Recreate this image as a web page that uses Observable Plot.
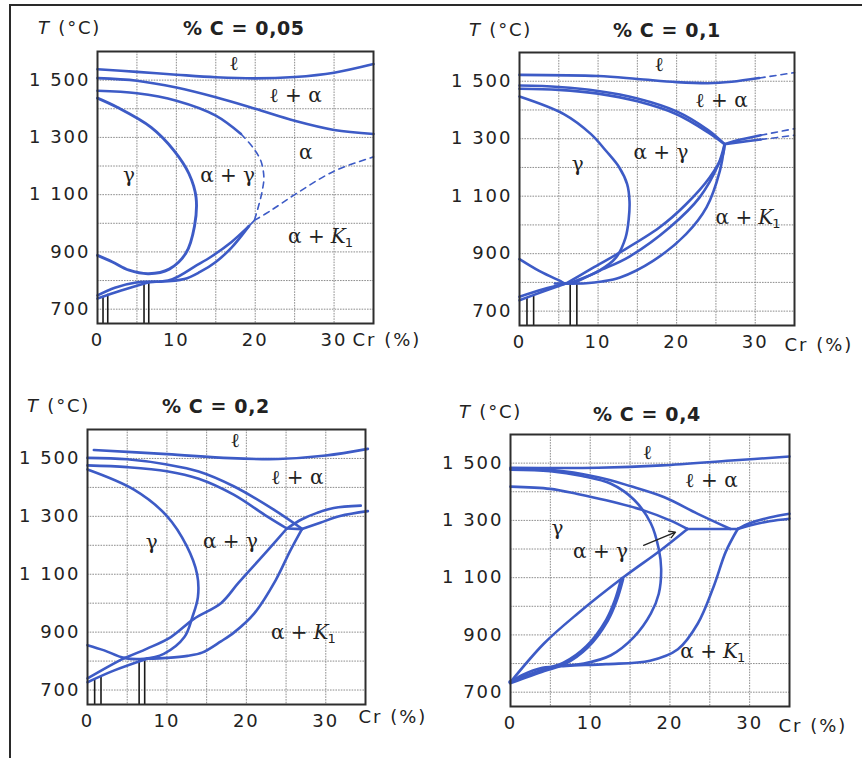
<!DOCTYPE html>
<html><head><meta charset="utf-8">
<script src="https://cdn.jsdelivr.net/npm/d3@7"></script>
<script src="https://cdn.jsdelivr.net/npm/@observablehq/plot@0.6"></script>
<style>
html,body{margin:0;padding:0;background:#fff;overflow:hidden;}
#page{position:relative;width:862px;height:758px;overflow:hidden;}
#border{position:absolute;left:9px;top:4px;width:900px;height:800px;border-left:2px solid #2a2a2a;border-top:2px solid #2a2a2a;}
.hdr{position:absolute;font-family:"DejaVu Sans";font-size:18px;color:#222;white-space:nowrap;line-height:20px;letter-spacing:1.8px;}
.ttl{font-weight:bold;font-size:19px;letter-spacing:0.6px;}
.panel{position:absolute;}
g[aria-label="x-axis tick label"] text, g[aria-label="y-axis tick label"] text{letter-spacing:2px;}
</style></head>
<body>
<div id="page">
<div id="border"></div>
<div class="hdr" style="left:38px;top:18px"><i>T</i> (°C)</div>
<div class="hdr ttl" style="left:183px;top:18px">% C = 0,05</div>
<div class="hdr" style="left:469px;top:20px"><i>T</i> (°C)</div>
<div class="hdr ttl" style="left:613px;top:20px">% C = 0,1</div>
<div class="hdr" style="left:27px;top:396px"><i>T</i> (°C)</div>
<div class="hdr ttl" style="left:162px;top:396px">% C = 0,2</div>
<div class="hdr" style="left:459px;top:402px"><i>T</i> (°C)</div>
<div class="hdr ttl" style="left:593px;top:404px">% C = 0,4</div>
</div>
<script>
// ---- axes / ticks ----
const crDomain = [0, 35];
const tDomain = [650, 1600];
const gridXTicks = [5, 10, 15, 20, 25, 30];
const gridYTicks = [700, 800, 900, 1000, 1100, 1200, 1300, 1400, 1500];
const xTickLabels = [0, 10, 20, 30];
const yTickLabels = [700, 900, 1100, 1300, 1500];

// ---- % C = 0,05 ----
const p1_liquidus = [[0,1538],[5,1529],[10,1519],[15,1510],[20,1506],[25,1511],[30,1526],[35,1556]];
const p1_solidus = [[0,1507],[5,1498],[10,1474],[15,1440],[20,1400],[25,1358],[30,1326],[35,1312]];
const p1_delta = [[0,1463],[5,1454],[10,1428],[15,1376],[18.2,1312]];
const p1_deltaDash = [[18.2,1312],[19.7,1265],[20.7,1219],[21.1,1161],[20.9,1115],[20.5,1068],[19.9,1010]];
const p1_gammaLoop = [[0,1437],[2.5,1405],[6.8,1335],[9.7,1254],[11.6,1173],[12.5,1090],[12.3,990],[11.2,895],[9.1,840],[6.5,824],[4.0,836],[1.9,865],[0,888]];
const p1_lowA = [[0,748],[2.2,775],[4.9,793],[8,796]];
const p1_lowB = [[0,737],[3,765],[6.5,794]];
const p1_lensUpper = [[6.5,794],[9.5,805],[12.5,852],[14.5,885],[17,935],[19.2,990]];
const p1_lensLower = [[8,796],[11,805],[13,830],[15,865],[17,915],[19.2,990]];
const p1_lensJoin = [[19.2,990],[19.9,1010]];
const p1_dashRight = [[19.9,1010],[22,1045],[25,1100],[30,1182],[35,1232]];
const p1_rules = [[0.7,745],[1.3,752],[5.9,792],[6.5,794]];
const p1_labels = [
  {t:"ℓ", x:17.3, y:1557}, {t:"ℓ + α", x:25.1, y:1445}, {t:"α", x:26.4, y:1248},
  {t:"γ", x:4.0, y:1167}, {t:"α + γ", x:16.5, y:1167}, {t:"K", x:28.3, y:952}
];

// ---- % C = 0,1 ----
const p2_liquidus = [[0,1522],[10,1518],[15,1508],[20,1497],[24,1493],[27,1498],[30.5,1511]];
const p2_liquidusDash = [[30.5,1511],[35,1530]];
const p2_solidusA = [[0,1485],[5,1480],[10,1466],[15,1440],[20,1395],[24,1330],[26.1,1281]];
const p2_solidusB = [[0,1474],[5,1470],[10,1457],[15,1430],[20,1385],[24,1322],[26.1,1281]];
const p2_rightA = [[26.1,1281],[28,1296],[30.7,1312]];
const p2_rightADash = [[30.7,1312],[35,1335]];
const p2_rightB = [[26.1,1281],[28,1288],[30.7,1297]];
const p2_rightBDash = [[30.7,1297],[35,1312]];
const p2_gammaLoop = [[0,1447],[5.7,1385],[9.1,1316],[11,1258],[12.7,1200],[13.7,1142],[14,1083],[13.9,1020],[13.5,956],[12.3,887],[10.1,840],[7.2,806],[5.9,796],[5.1,806],[2.5,840],[0,881]];
const p2_lowA = [[0,750],[3,776],[5.9,796]];
const p2_lowB = [[0,738],[3,768],[5.9,796]];
const p2_e1 = [[5.9,796],[9,845],[12.5,900],[17.8,991],[21.2,1072],[24.2,1165],[25.9,1246],[26.1,1281]];
const p2_e2 = [[6.8,796],[10,838],[14,890],[19.1,991],[22.9,1095],[25.3,1210],[26.1,1281]];
const p2_e3 = [[4.5,796],[8.5,797],[10.5,803],[12.8,817],[17,875],[21.2,968],[23.8,1061],[25.5,1188],[26.1,1281]];
const p2_rules = [[0.95,745],[1.8,752],[6.45,796],[7.3,796]];
const p2_labels = [
  {t:"ℓ", x:17.8, y:1559}, {t:"ℓ + α", x:25.7, y:1432}, {t:"α + γ", x:18, y:1252},
  {t:"γ", x:7.4, y:1211}, {t:"K", x:29.1, y:1026}
];

// ---- % C = 0,2 ----
const p3_liquidus = [[0.8,1529],[10,1515],[18,1501],[24,1498],[30,1510],[35.3,1533]];
const p3_solidusA = [[0,1502],[5,1497],[10,1479],[14,1455],[18.4,1404],[23.4,1324],[27,1257]];
const p3_solidusB = [[0,1476],[5,1470],[10,1456],[14,1430],[18.4,1375],[22.6,1300],[25.1,1258]];
const p3_horiz = [[25.1,1258],[27,1256]];
const p3_rightA = [[25.1,1258],[27,1290],[28.9,1312],[31,1329],[34.4,1337]];
const p3_rightB = [[27,1256],[29.3,1278],[31.8,1301],[35.3,1318]];
const p3_gammaLoop = [[0,1462],[5.8,1393],[10,1301],[12.5,1197],[13.8,1100],[13.9,1021],[13.2,952],[12.2,883],[9.6,825],[7.1,808],[4.6,811],[2.1,837],[0,855]];
const p3_lowA = [[0,740],[2.5,779],[4.6,810]];
const p3_lowB = [[0,727],[3.3,767],[7.5,808]];
const p3_e1 = [[4.6,810],[7.5,843],[10.5,883],[13.4,946],[16.8,1000],[19,1070],[22.6,1180],[25.1,1258]];
const p3_e2 = [[7.5,808],[10,811],[12.6,818],[14.5,830],[16.8,868],[18.5,900],[21,965],[23.7,1080],[25.5,1180],[27,1256]];
const p3_rules = [[0.9,738],[1.7,748],[6.5,806],[7.2,808]];
const p3_labels = [
  {t:"ℓ", x:18.6, y:1560}, {t:"ℓ + α", x:26.4, y:1433}, {t:"γ", x:8.1, y:1208},
  {t:"α + γ", x:18, y:1214}, {t:"K", x:27.2, y:898}
];

// ---- % C = 0,4 ----
const p4_liquidus = [[0,1484],[11,1484],[19,1492],[27.7,1509],[35,1523]];
const p4_solidus = [[0,1480],[5,1477],[11,1451],[15,1420],[19.3,1381],[23.5,1323],[27.6,1270]];
const p4_gammaLoop = [[0,1477],[5,1472],[9,1455],[12.6,1428],[15.5,1372],[17.6,1290],[18.6,1200],[18.9,1130],[18.6,1044],[17.6,974],[15.5,893],[12.6,829],[9.2,800],[7.1,794]];
const p4_upper = [[0,1418],[5,1410],[8.4,1392],[12,1370],[16.7,1335],[20,1300],[22.2,1270]];
const p4_horiz = [[22.2,1270],[28.5,1270]];
const p4_apexLine = [[22.2,1270],[18.8,1195],[14.2,1102],[8.4,974],[4.2,870],[0,735]];
const p4_thick = [[14,1095],[13.2,1020],[12.1,951],[9.6,858],[6.7,800],[4.2,777],[0,735]];
const p4_k1 = [[28.5,1270],[27,1190],[25.5,1070],[23.5,940],[21,850],[17.5,810],[12,798],[7,792],[4,785],[1.5,760],[0,735]];
const p4_rightA = [[28.5,1270],[30,1290],[32.5,1310],[35,1323]];
const p4_rightB = [[28.5,1270],[30,1282],[32.5,1297],[35,1306]];
const p4_arrow = [{x1:16.7, y1:1213, x2:20.7, y2:1259}];
const p4_labels = [
  {t:"ℓ", x:17.2, y:1538}, {t:"ℓ + α", x:25.2, y:1440}, {t:"γ", x:5.9, y:1271},
  {t:"α + γ", x:11.3, y:1190}, {t:"K", x:25.4, y:841}
];

const BLUE = "#3d5bc6";
const panels = [
  {frame:[97,51,276,272], crDx:-21, crDy:17, rules:p1_rules, labels:p1_labels, arrows:[],
   lines:[{p:p1_liquidus},{p:p1_solidus},{p:p1_delta},{p:p1_deltaDash,dash:true},{p:p1_gammaLoop,w:2.9},
          {p:p1_lowA},{p:p1_lowB},{p:p1_lensUpper},{p:p1_lensLower},{p:p1_lensJoin,w:1.6},{p:p1_dashRight,dash:true}]},
  {frame:[519,52,275,273], crDx:-10, crDy:20, rules:p2_rules, labels:p2_labels, arrows:[],
   lines:[{p:p2_liquidus},{p:p2_liquidusDash,dash:true},{p:p2_solidusA},{p:p2_solidusB},{p:p2_rightA},{p:p2_rightADash,dash:true},
          {p:p2_rightB},{p:p2_rightBDash,dash:true},{p:p2_gammaLoop},{p:p2_lowA},{p:p2_lowB},{p:p2_e1},{p:p2_e2},{p:p2_e3}]},
  {frame:[87,429,278,275], crDx:-7, crDy:13, rules:p3_rules, labels:p3_labels, arrows:[],
   lines:[{p:p3_liquidus},{p:p3_solidusA},{p:p3_solidusB},{p:p3_horiz},{p:p3_rightA},{p:p3_rightB},{p:p3_gammaLoop},
          {p:p3_lowA},{p:p3_lowB},{p:p3_e1},{p:p3_e2}]},
  {frame:[510,434,279,272], crDx:-11, crDy:20, rules:[], labels:p4_labels, arrows:p4_arrow,
   lines:[{p:p4_liquidus},{p:p4_solidus},{p:p4_gammaLoop},{p:p4_upper},{p:p4_horiz},{p:p4_apexLine},{p:p4_thick,w:4.5},
          {p:p4_k1},{p:p4_rightA},{p:p4_rightB}]}
];

const fmtT = d => d >= 1000 ? `${Math.floor(d/1000)} ${String(d%1000).padStart(3,"0")}` : String(d);
const ML = 95, MR = 80, MT = 55, MB = 45;
const page = document.getElementById("page");
const labelFont = "DejaVu Serif, Liberation Serif, serif";

for (const cfg of panels) {
  const [fl, ft, fw, fh] = cfg.frame;
  const plain = cfg.labels.filter(d => d.t !== "K");
  const kLab = cfg.labels.filter(d => d.t === "K");
  const marks = [
    Plot.gridX(gridXTicks, {stroke:"#8c8c8c", strokeOpacity:1, strokeWidth:1, strokeDasharray:"1.6 1.1"}),
    Plot.gridY(gridYTicks, {stroke:"#8c8c8c", strokeOpacity:1, strokeWidth:1, strokeDasharray:"1.6 1.1"}),
    Plot.axisX(xTickLabels, {tickSize:0, tickPadding:10, label:null, fontSize:18}),
    Plot.axisY(yTickLabels, {tickSize:0, tickPadding:7, label:null, fontSize:18, tickFormat:fmtT}),
    Plot.ruleX(cfg.rules, {x:d => d[0], y1:tDomain[0], y2:d => d[1], stroke:"#1a1a1a", strokeWidth:1.6}),
    ...cfg.lines.map(l => Plot.line(l.p, {x:d => d[0], y:d => d[1], stroke:BLUE,
        strokeWidth: l.dash ? 1.6 : (l.w || 2.6), strokeDasharray: l.dash ? "6 5" : null,
        curve:"catmull-rom", strokeLinecap:"round"})),
    Plot.frame({stroke:"#2e2e2e", strokeWidth:2}),
    Plot.arrow(cfg.arrows, {x1:"x1", y1:"y1", x2:"x2", y2:"y2", stroke:"#222", strokeWidth:1.3, headLength:8}),
    Plot.text(plain, {x:"x", y:"y", text:"t", fontFamily:labelFont, fontSize:20, fill:"#222"}),
    Plot.text(kLab, {x:"x", y:"y", text:() => "α +", textAnchor:"end", dx:4, fontFamily:labelFont, fontSize:20, fill:"#222"}),
    Plot.text(kLab, {x:"x", y:"y", text:"t", textAnchor:"start", dx:10, fontFamily:labelFont, fontStyle:"italic", fontSize:20, fill:"#222"}),
    Plot.text(kLab, {x:"x", y:"y", text:() => "1", textAnchor:"start", dx:24, dy:6, fontFamily:"DejaVu Sans", fontSize:13, fill:"#222"}),
    Plot.text(["Cr (%)"], {frameAnchor:"bottom-right", textAnchor:"start", lineAnchor:"middle", dx:cfg.crDx, dy:cfg.crDy,
        fontFamily:"DejaVu Sans", fontSize:18, fill:"#222"})
  ];
  const svg = Plot.plot({
    width: ML + fw + MR, height: MT + fh + MB,
    marginLeft: ML, marginRight: MR, marginTop: MT, marginBottom: MB,
    x: {domain: crDomain}, y: {domain: tDomain},
    style: {background:"transparent", fontFamily:"DejaVu Sans", fontSize:"18px", color:"#222", overflow:"visible"},
    marks
  });
  svg.querySelectorAll('g[aria-label="text"] text').forEach(t => {
    if (t.textContent === "Cr (%)") t.setAttribute("letter-spacing", "2");
  });
  svg.classList.add("panel");
  svg.style.left = (fl - ML) + "px";
  svg.style.top = (ft - MT) + "px";
  svg.style.maxWidth = "none";
  page.appendChild(svg);
}
</script>
</body></html>
